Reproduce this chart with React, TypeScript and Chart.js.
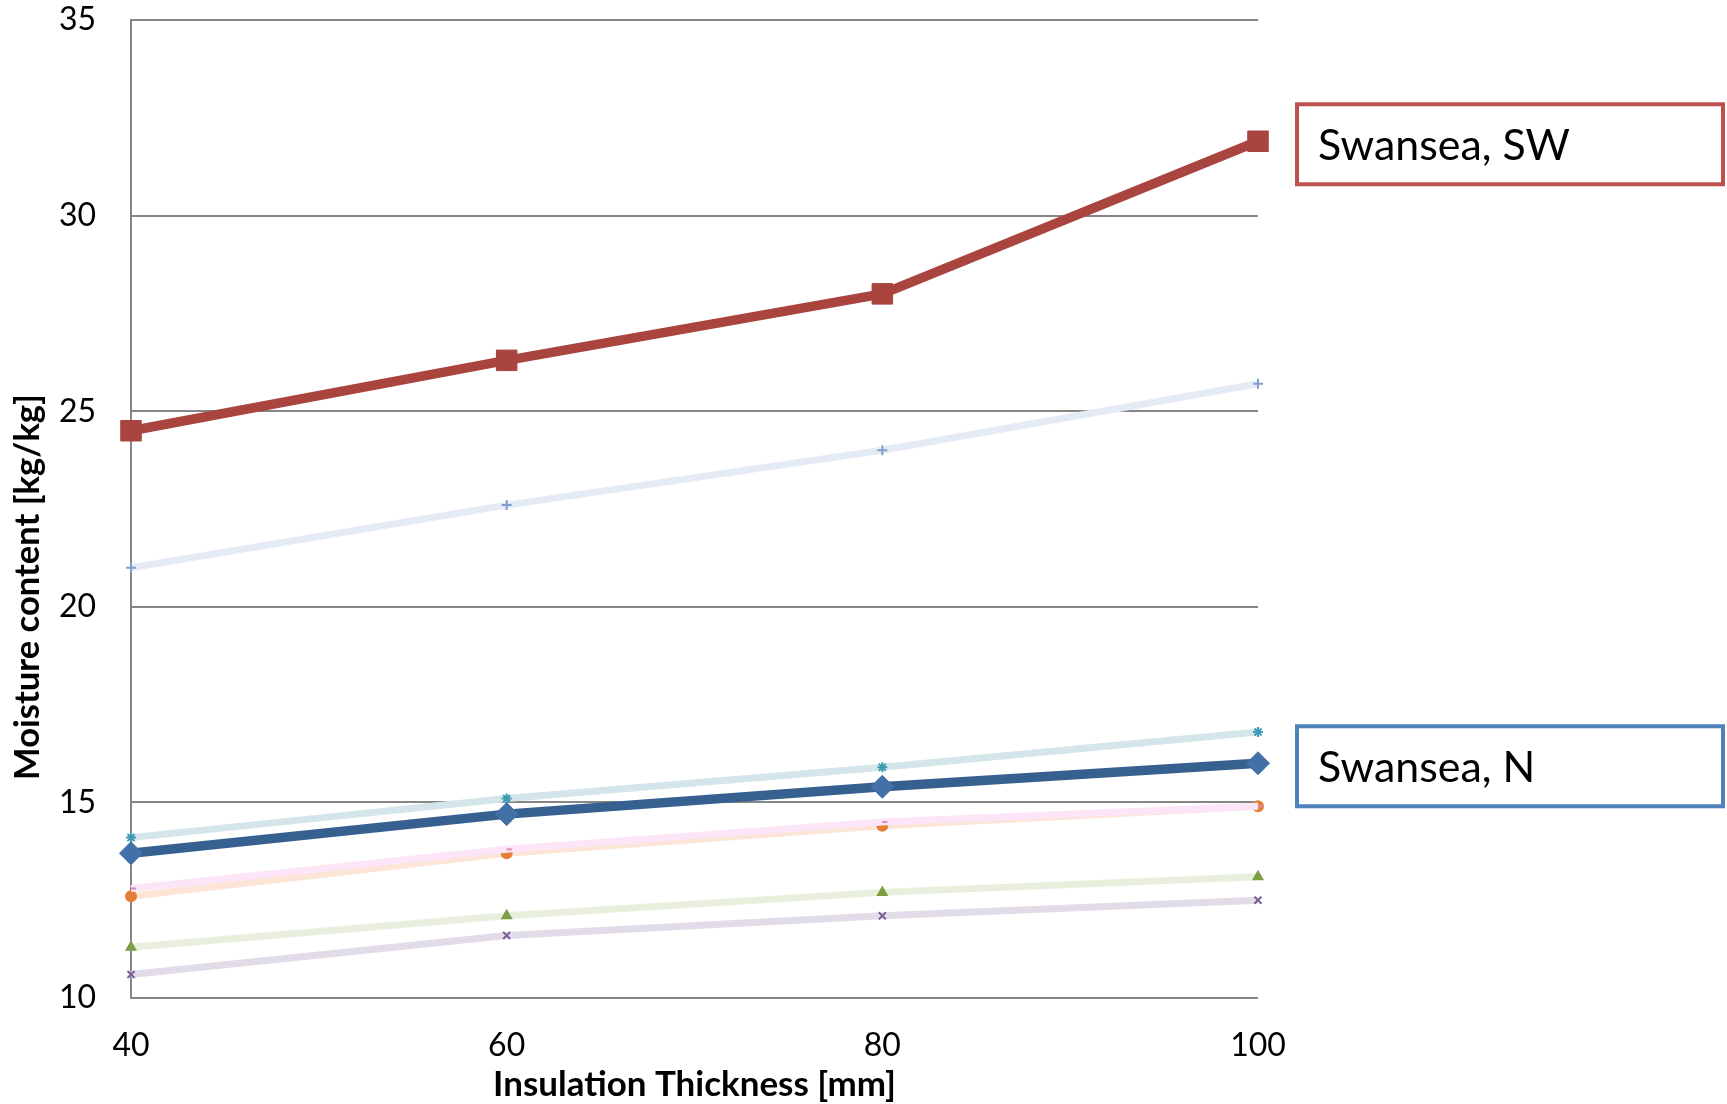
import React, { useEffect, useRef } from "react";
import { Chart, registerables } from "chart.js";

Chart.register(...registerables);

// Insulation thickness categories [mm]
const thickness = ["40", "60", "80", "100"];

// Moisture content [kg/kg] per case
const swanseaSW = [24.5, 26.3, 28.0, 31.9];
const swanseaN = [13.7, 14.7, 15.4, 16.0];
const casePlus = [21.0, 22.6, 24.0, 25.7];
const caseStar = [14.1, 15.1, 15.9, 16.8];
const caseDash = [12.8, 13.8, 14.5, 14.9];
const caseCircle = [12.6, 13.7, 14.4, 14.9];
const caseTriangle = [11.3, 12.1, 12.7, 13.1];
const caseCross = [10.6, 11.6, 12.1, 12.5];

const yTicks = [10, 15, 20, 25, 30, 35];

const FONT = "Lato, 'Open Sans', 'DejaVu Sans', sans-serif";
const GRID = "#868686";

function fitFont(ctx: CanvasRenderingContext2D, text: string, weight: string, width: number) {
  ctx.font = `${weight} 100px ${FONT}`;
  const w = ctx.measureText(text).width;
  return (100 * width) / w;
}

const overlay = {
  id: "overlay",
  afterDraw(chart: any) {
    const { ctx, chartArea, scales } = chart;
    ctx.save();
    ctx.fillStyle = "#000";

    // y axis title
    const ySize = fitFont(ctx, "Moisture content [kg/kg]", "bold", 386);
    ctx.font = `bold ${ySize}px ${FONT}`;
    ctx.translate(28, 587);
    ctx.rotate(-Math.PI / 2);
    ctx.textAlign = "center";
    ctx.textBaseline = "middle";
    ctx.fillText("Moisture content [kg/kg]", 0, 0);
    ctx.setTransform(1, 0, 0, 1, 0, 0);

    // x axis title
    const xSize = fitFont(ctx, "Insulation Thickness [mm]", "bold", 403);
    ctx.font = `bold ${xSize}px ${FONT}`;
    ctx.textAlign = "center";
    ctx.textBaseline = "middle";
    ctx.fillText("Insulation Thickness [mm]", (chartArea.left + chartArea.right) / 2, 1085);

    // series name boxes next to the last point of each main series
    const boxSize = fitFont(ctx, "Swansea, SW", "normal", 252);
    const boxes = [
      { text: "Swansea, SW", value: swanseaSW[swanseaSW.length - 1], color: "#C0504D" },
      { text: "Swansea, N", value: swanseaN[swanseaN.length - 1], color: "#4F81BD" },
    ];
    const left = chartArea.right + 39;
    const w = 426;
    const h = 80;
    for (const b of boxes) {
      const cy = scales.y.getPixelForValue(b.value) + 3;
      ctx.fillStyle = "#fff";
      ctx.fillRect(left, cy - h / 2, w, h);
      ctx.strokeStyle = b.color;
      ctx.lineWidth = 4;
      ctx.strokeRect(left, cy - h / 2, w, h);
      ctx.fillStyle = "#000";
      ctx.font = `normal ${boxSize}px ${FONT}`;
      ctx.textAlign = "left";
      ctx.textBaseline = "alphabetic";
      ctx.fillText(b.text, left + 21, cy + boxSize * 0.36);
    }
    ctx.restore();
  },
};

function lightSeries(label: string, data: number[], line: string, marker: string, style: string) {
  return {
    label,
    data,
    borderColor: line,
    borderWidth: 7,
    pointStyle: style,
    pointRadius: 5,
    pointBackgroundColor: marker,
    pointBorderColor: marker,
    pointBorderWidth: 2,
    tension: 0,
    clip: false,
  };
}

function noPadding(scale: any) {
  scale.paddingTop = 0;
  scale.paddingBottom = 0;
  scale.paddingLeft = 0;
  scale.paddingRight = 0;
}

export default function App() {
  const ref = useRef<HTMLCanvasElement>(null);

  useEffect(() => {
    if (!ref.current) return;
    const chart = new Chart(ref.current, {
      type: "line",
      data: {
        labels: thickness,
        datasets: [
          {
            label: "Swansea, SW",
            data: swanseaSW,
            borderColor: "#A9443F",
            borderWidth: 9.5,
            pointStyle: "rect",
            pointRadius: 14.5,
            pointBackgroundColor: "#A9443F",
            pointBorderColor: "#A9443F",
            pointBorderWidth: 1,
            tension: 0,
            clip: false,
          },
          {
            label: "Swansea, N",
            data: swanseaN,
            borderColor: "#36608F",
            borderWidth: 9.5,
            pointStyle: "rectRot",
            pointRadius: 11.5,
            pointBackgroundColor: "#4470A8",
            pointBorderColor: "#4470A8",
            pointBorderWidth: 1,
            tension: 0,
            clip: false,
          },
          lightSeries("plus", casePlus, "#E5EBF4", "#7E9ED2", "cross"),
          lightSeries("star", caseStar, "#D5E6EB", "#3D9CB4", "star"),
          lightSeries("dash", caseDash, "#FBE5F7", "#D58DB2", "dash"),
          lightSeries("circle", caseCircle, "#FCE5D7", "#E47F3A", "circle"),
          lightSeries("triangle", caseTriangle, "#E9EFDD", "#7E9E45", "triangle"),
          lightSeries("cross", caseCross, "#E2DBE8", "#7A5C96", "crossRot"),
        ],
      },
      options: {
        responsive: false,
        animation: false,
        layout: { padding: { top: 20, right: 469, left: 0, bottom: 0 } },
        plugins: {
          legend: { display: false },
          tooltip: { enabled: false },
        },
        scales: {
          x: {
            type: "category",
            offset: false,
            grid: { display: false, drawTicks: false },
            border: { display: false },
            ticks: {
              color: "#000",
              font: { family: FONT, size: 32 },
              padding: 28,
              maxRotation: 0,
            },
            afterFit(scale: any) {
              scale.height = 106;
              noPadding(scale);
            },
          },
          y: {
            type: "linear",
            min: 10,
            max: 35,
            afterBuildTicks(scale: any) {
              scale.ticks = yTicks.map((v) => ({ value: v }));
            },
            grid: { color: GRID, lineWidth: 2, drawTicks: false },
            border: { display: true, color: GRID, width: 2 },
            ticks: {
              color: "#000",
              font: { family: FONT, size: 32 },
              padding: 35,
            },
            afterFit(scale: any) {
              scale.width = 131;
              noPadding(scale);
            },
          },
        },
      } as any,
      plugins: [overlay],
    });
    return () => chart.destroy();
  }, []);

  return (
    <div style={{ position: "absolute", left: 0, top: 0, width: 1727, height: 1104, background: "#fff" }}>
      <canvas ref={ref} width={1727} height={1104} style={{ width: 1727, height: 1104 }} />
    </div>
  );
}
